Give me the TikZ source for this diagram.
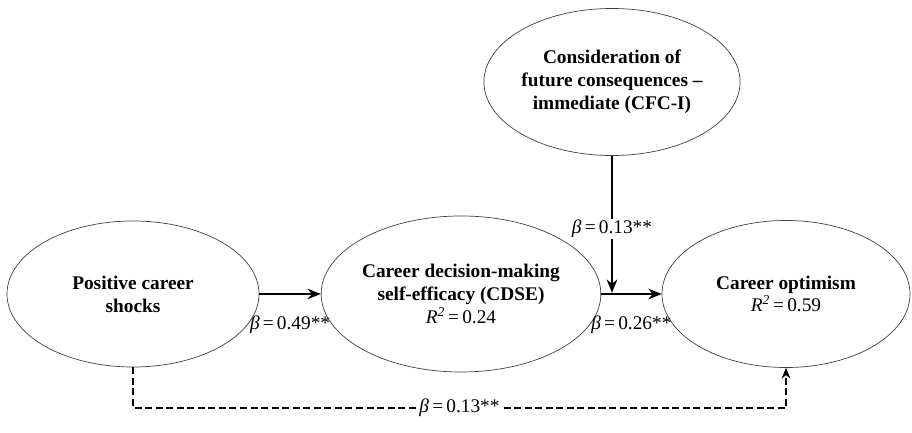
\documentclass[tikz,border=0pt]{standalone}
\usepackage{fontspec}
\setmainfont{Liberation Serif}
\usetikzlibrary{shapes.geometric,arrows.meta,positioning}

\tikzset{
  latent/.style = {draw = black!75, line width = 0.6pt, shape = ellipse, inner sep = 0pt, align = center, font = \fontsize{16.5}{19.5}\selectfont\bfseries},
  effect/.style = {line width = 1.4pt, -{Stealth[length = 0.4cm, width = 0.32cm]}},
  direct/.style = {line width = 1.2pt, dash pattern = on 6pt off 3pt, -{Stealth[length = 0.32cm, width = 0.26cm]}},
  coef/.style = {font = \fontsize{16.5}{19.5}\selectfont, inner sep = 1pt}
}
\newcommand{\coefval}[1]{\textit{β}\,=\,#1}

\begin{document}
\begin{tikzpicture}[x = 0.03cm, y = -0.03cm]
\useasboundingbox (0,0) rectangle (912,433);
\node[latent, minimum width = 7.56cm, minimum height = 4.38cm] (pcs) at (133,294) {Positive career\\shocks};
\node[latent, minimum width = 7.56cm, minimum height = 4.68cm] (cdse) at (461,294) {Career decision-making\\self-efficacy (CDSE)\\\mdseries\textit{R\textsuperscript{2}}\,=\,0.24};
\node[latent, minimum width = 7.44cm, minimum height = 4.41cm] (co) at (786,294) {Career optimism\\\mdseries\textit{R\textsuperscript{2}}\,=\,0.59};
\node[latent, minimum width = 6.84cm, minimum height = 4.41cm] (cfc) at (612,82) {Consideration of\\future consequences --\\immediate (CFC-I)};
\coordinate (mod) at (cfc.south |- co.west);
\coordinate (dl) at (133,408);

\draw[effect] (pcs.east) -- node[coef, below = 17pt] {\coefval{0.49**}} (cdse.west);
\draw[effect] (cdse.east) -- node[coef, below = 17pt] {\coefval{0.26**}} (co.west);
\draw[effect, shorten > = 1pt] (cfc.south) -- node[coef, fill = white, pos = 0.53] {\coefval{0.13**}} (mod);
\draw[direct] (pcs.south) -- (dl) -| node[coef, fill = white, pos = 0.25] {\coefval{0.13**}} (co.south);
\end{tikzpicture}
\end{document}
